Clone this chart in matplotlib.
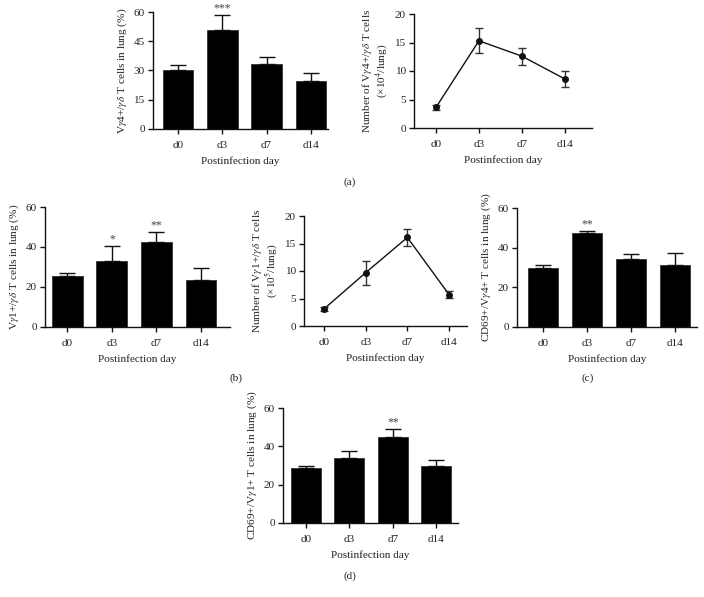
import matplotlib
matplotlib.use("Agg")
import matplotlib.pyplot as plt
import numpy as np

plt.rcParams['font.family'] = ['Liberation Serif', 'DejaVu Serif']
plt.rcParams['mathtext.fontset'] = 'stix'

days = ['d0', 'd3', 'd7', 'd14']

# (a) left: Vγ4+/γδ T cells in lung (%)
a_pct = [30.0, 51.0, 33.5, 24.5]
a_pct_err = [3.0, 7.5, 3.5, 4.0]
a_pct_sig = ['', '***', '', '']

# (a) right: number of Vγ4+/γδ T cells (x10^4/lung)
a_num = [3.6, 15.3, 12.6, 8.6]
a_num_err = [0.5, 2.2, 1.5, 1.4]

# (b) left: Vγ1+/γδ T cells in lung (%)
b_pct = [25.5, 33.0, 42.5, 23.5]
b_pct_err = [1.5, 7.5, 5.0, 6.0]
b_pct_sig = ['', '*', '**', '']

# (b) middle: number of Vγ1+/γδ T cells (x10^5/lung)
b_num = [3.1, 9.7, 16.1, 5.7]
b_num_err = [0.4, 2.2, 1.5, 0.6]

# (c): CD69+/Vγ4+ T cells in lung (%)
c_pct = [29.5, 47.5, 34.5, 31.5]
c_pct_err = [2.0, 1.0, 2.5, 6.0]
c_pct_sig = ['', '**', '', '']

# (d): CD69+/Vγ1+ T cells in lung (%)
d_pct = [28.5, 34.0, 45.0, 29.5]
d_pct_err = [1.5, 3.5, 4.0, 3.5]
d_pct_sig = ['', '', '**', '']

W, H = 704, 597
fig = plt.figure(figsize=(W / 100, H / 100), dpi=100)

TXT = '#222222'
FS = 8.1


def add_axes(left, right, top, bottom):
    return fig.add_axes([left / W, 1 - bottom / H, (right - left) / W, (bottom - top) / H])


def style(ax, ylabel, ymax, yticks, xlim):
    for s in ['top', 'right']:
        ax.spines[s].set_visible(False)
    for s in ['left', 'bottom']:
        ax.spines[s].set_linewidth(1.0)
        ax.spines[s].set_color('#111111')
    ax.set_ylim(0, ymax)
    ax.set_yticks(yticks)
    ax.set_xlim(*xlim)
    ax.set_xticks(range(len(days)))
    ax.set_xticklabels(days)
    ax.tick_params(direction='out', length=3.5, width=1.0, labelsize=FS,
                   colors='#111111', labelcolor=TXT, pad=2.5)
    ax.tick_params(axis='x', pad=5)
    ax.set_ylabel(ylabel, fontsize=FS, color=TXT, labelpad=3, linespacing=1.0)
    ax.set_xlabel('Postinfection day', fontsize=FS, color=TXT, labelpad=5)


def bar_panel(ax, vals, errs, sigs, ylabel, ymax, yticks, xlim):
    x = np.arange(len(vals))
    ax.bar(x, vals, width=0.69, color='black', edgecolor='#333333', linewidth=0.6, zorder=2)
    ax.errorbar(x, vals, yerr=[np.zeros(len(errs)), errs], fmt='none',
                ecolor='#111111', elinewidth=1.0, capsize=6, capthick=1.0, zorder=3)
    for xi, v, e, s in zip(x, vals, errs, sigs):
        if s:
            ax.text(xi, v + e + ymax * 0.005, s, ha='center', va='bottom',
                    fontsize=8.5, color='#444444')
    style(ax, ylabel, ymax, yticks, xlim)


def line_panel(ax, vals, errs, ylabel, ymax, yticks, xlim):
    x = np.arange(len(vals))
    ax.errorbar(x, vals, yerr=errs, fmt='-o', color='#111111', ms=4, lw=1.0,
                ecolor='#333333', elinewidth=1.0, capsize=3, capthick=1.0, zorder=3)
    style(ax, ylabel, ymax, yticks, xlim)


ax1 = add_axes(153, 328, 12, 129)
bar_panel(ax1, a_pct, a_pct_err, a_pct_sig,
          r'V$\gamma$4+/$\gamma\delta$ T cells in lung (%)', 60, [0, 15, 30, 45, 60], (-0.57, 3.39))

ax2 = add_axes(414, 592, 14, 128)
line_panel(ax2, a_num, a_num_err,
           'Number of V$\\gamma$4+/$\\gamma\\delta$ T cells\n(\u00d710$^4$/lung)', 20, [0, 5, 10, 15, 20],
           (-0.51, 3.63))

ax3 = add_axes(45, 230, 207, 327)
bar_panel(ax3, b_pct, b_pct_err, b_pct_sig,
          r'V$\gamma$1+/$\gamma\delta$ T cells in lung (%)', 60, [0, 20, 40, 60], (-0.5, 3.65))

ax4 = add_axes(304, 467, 216, 326)
line_panel(ax4, b_num, b_num_err,
           'Number of V$\\gamma$1+/$\\gamma\\delta$ T cells\n(\u00d710$^5$/lung)', 20, [0, 5, 10, 15, 20],
           (-0.48, 3.43))

ax5 = add_axes(517, 697, 208, 327)
bar_panel(ax5, c_pct, c_pct_err, c_pct_sig,
          r'CD69+/V$\gamma$4+ T cells in lung (%)', 60, [0, 20, 40, 60], (-0.6, 3.51))

ax6 = add_axes(283, 458, 408, 523)
bar_panel(ax6, d_pct, d_pct_err, d_pct_sig,
          r'CD69+/V$\gamma$1+ T cells in lung (%)', 60, [0, 20, 40, 60], (-0.53, 3.5))

for lbl, (px, py) in {'(a)': (350, 182), '(b)': (236, 378),
                      '(c)': (588, 378), '(d)': (350, 576)}.items():
    fig.text(px / W, 1 - py / H, lbl, ha='center', va='center', fontsize=FS, color=TXT)

fig.savefig('out.png', dpi=100, facecolor='white')
